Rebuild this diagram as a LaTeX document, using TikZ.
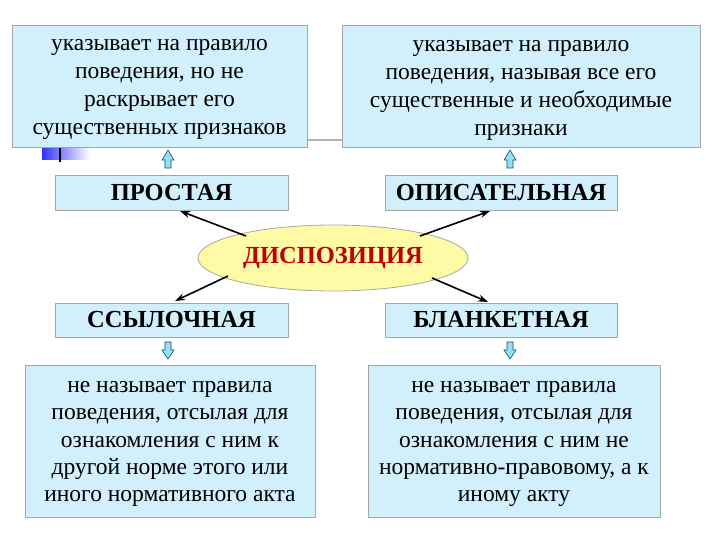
\documentclass[tikz,border=0pt]{standalone}
\usepackage{fontspec}
\setmainfont{Liberation Serif}
\usetikzlibrary{shapes.geometric,arrows.meta}
\begin{document}
\begin{tikzpicture}[x=1pt,y=-1pt,
  box/.style={draw=gray!70,fill=cyan!18,line width=0.8pt,inner sep=0pt,align=center},
  txt/.style={font=\fontsize{23.5}{28}\selectfont,align=center},
  txtb/.style={font=\fontsize{23.5}{27.2}\selectfont,align=center},
  head/.style={font=\fontsize{24.5}{28}\selectfont\bfseries},
  conn/.style={-{Stealth[length=10pt,width=7pt]},line width=1.6pt},
  fat/.style={draw=teal!70!black,fill=cyan!40,line width=0.6pt}]
\useasboundingbox (0,0) rectangle (720,540);
\draw[gray!60,line width=2pt] (307,140) -- (342,140);
\shade[left color=blue!80,right color=white] (42,148) rectangle (90,160);
\draw[line width=1.5pt] (60,148) -- (60,162);
\node[box,minimum width=295pt,minimum height=122pt] (tl) at (159.5,86) {};
\node[txt,yshift=-4pt] at (tl) {указывает на правило\\поведения, но не\\раскрывает его\\существенных признаков};
\node[box,minimum width=358pt,minimum height=122pt] (tr) at (521,86) {};
\node[txt,yshift=-4pt] at (tr) {указывает на правило\\поведения, называя все его\\существенные и необходимые\\признаки};
\node[box,minimum width=233pt,minimum height=35pt,head] (p) at (171.5,192.5) {ПРОСТАЯ};
\node[box,minimum width=232pt,minimum height=35pt,head] (o) at (501,192.5) {ОПИСАТЕЛЬНАЯ};
\node[ellipse,draw=gray!70,fill=yellow!35,line width=0.8pt,minimum width=270pt,minimum height=66pt,text=red!75!black,head] (d) at (333,258) {ДИСПОЗИЦИЯ};
\node[box,minimum width=233pt,minimum height=34pt,head] (s) at (171.5,320) {ССЫЛОЧНАЯ};
\node[box,minimum width=232pt,minimum height=34pt,head] (b) at (501,320) {БЛАНКЕТНАЯ};
\node[box,minimum width=290pt,minimum height=152pt] (bl) at (170,441) {};
\node[txtb,yshift=-3pt] at (bl) {не называет правила\\поведения, отсылая для\\ознакомления с ним к\\другой норме этого или\\иного нормативного акта};
\node[box,minimum width=292pt,minimum height=152pt] (br) at (514,441) {};
\node[txtb,yshift=-3pt] at (br) {не называет правила\\поведения, отсылая для\\ознакомления с ним не\\нормативно-правовому, а к\\иному акту};
\foreach \x in {168,510}{
  \draw[fat] (\x-3,168) -- (\x-3,160) -- (\x-6,160) -- (\x,150) -- (\x+6,160) -- (\x+3,160) -- (\x+3,168) -- cycle;
  \draw[fat] (\x-3,342) -- (\x-3,350) -- (\x-6,350) -- (\x,359) -- (\x+6,350) -- (\x+3,350) -- (\x+3,342) -- cycle;
}
\coordinate (e1) at (246,236);
\coordinate (e2) at (420,236);
\coordinate (e3) at (228,276);
\coordinate (e4) at (432,278);
\draw[conn] (e1) -- (180,211);
\draw[conn] (e2) -- (490,211);
\draw[conn] (e3) -- (175,301);
\draw[conn] (e4) -- (488,302);
\end{tikzpicture}
\end{document}
